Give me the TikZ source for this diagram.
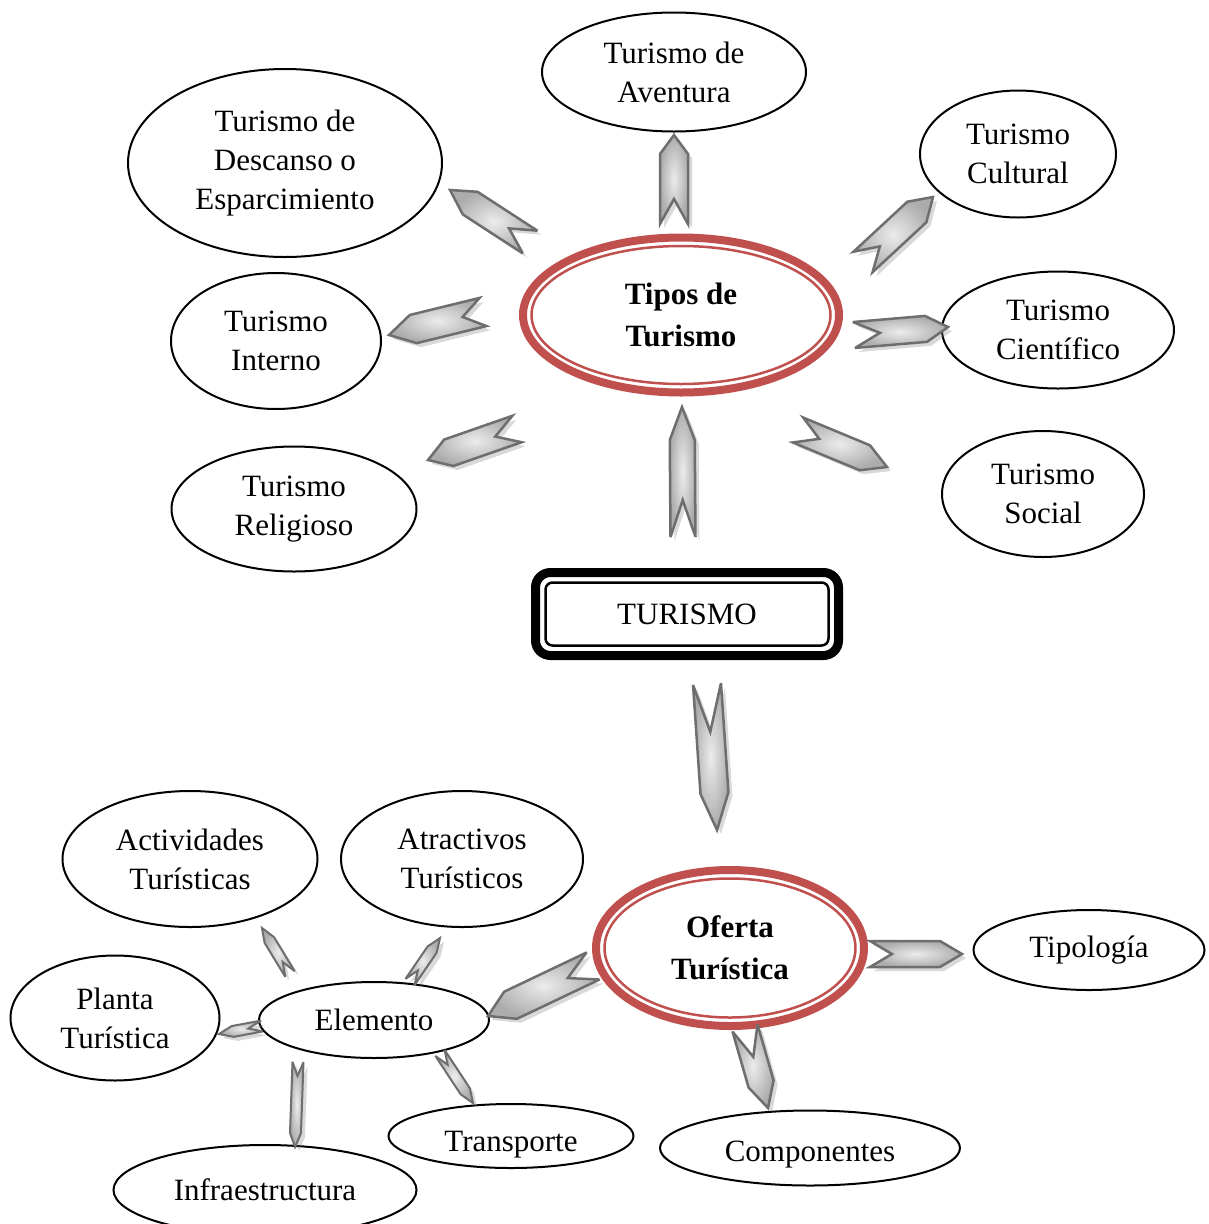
\documentclass[tikz,border=0pt]{standalone}
\usepackage{fontspec}
\setmainfont{Liberation Serif}
\usetikzlibrary{calc, shapes.geometric, shadows}
\definecolor{ofred}{RGB}{192,80,77}
\definecolor{chevline}{RGB}{110,110,110}
\newcommand\turfont{\fontsize{31}{39}\selectfont}
\newcommand\turbold{\fontsize{31}{42}\selectfont\bfseries}
\newcommand\chev[6]{%
  \path[#1] let \p1=($(#3)-(#2)$), \n1={atan2(\y1,\x1)}, \n2={veclen(\x1,\y1)} in
    ($(#2)+(\n1+90:#4/2)$) -- ($(#2)+(\n1:#5)$) -- ($(#2)+(\n1-90:#4/2)$)
    -- ($(#2)+(\n1:\n2-#6)+(\n1-90:#4/2)$) -- (#3)
    -- ($(#2)+(\n1:\n2-#6)+(\n1+90:#4/2)$) -- cycle;}

\begin{document}
\begin{tikzpicture}[
  x=1pt, y=1pt,
  oval/.style={draw, line width=2pt, ellipse, inner sep=0pt, align=center, font=\turfont},
  redoval/.style={draw=ofred, line width=8pt, ellipse, inner sep=0pt, align=center, font=\turbold},
  chev/.style={draw=chevline, line width=2.5pt, line join=miter, miter limit=4,
    inner color=gray!15, outer color=gray!65,
    drop shadow={shadow xshift=4pt, shadow yshift=-4pt, opacity=0.3, fill=gray}},
  smallchev/.style={chev, line width=2pt}
]
\useasboundingbox (0,0) rectangle (1208,-1224);

\node[redoval, minimum width=316pt, minimum height=155pt] (tipos) at (681,-315) {Tipos de\\Turismo};
\draw[ofred, line width=2.5pt] (tipos.center) ellipse [x radius=149.5pt, y radius=69pt];

\node[oval, minimum width=264pt, minimum height=119pt] (aventura) at (674,-72) {Turismo de\\Aventura};
\node[oval, minimum width=314pt, minimum height=188pt] (descanso) at (285,-163) {Turismo de\\Descanso o\\Esparcimiento};
\node[oval, minimum width=196pt, minimum height=127pt] (cultural) at (1018,-154) {Turismo\\Cultural};
\node[oval, minimum width=210pt, minimum height=136pt] (interno) at (276,-341) {Turismo\\Interno};
\node[oval, minimum width=232pt, minimum height=117pt] (cientifico) at (1058,-330) {Turismo\\Científico};
\node[oval, minimum width=245pt, minimum height=125pt] (religioso) at (294,-509) {Turismo\\Religioso};
\node[oval, minimum width=202pt, minimum height=126pt] (social) at (1043,-494) {Turismo\\Social};

\node[draw, line width=9pt, rounded corners=15pt, minimum width=303pt, minimum height=83pt,
  font=\turfont] (turismo) at (687,-614) {TURISMO};
\draw[line width=2.5pt, rounded corners=7pt] ($(turismo.south west)+(14.5,14.5)$) rectangle ($(turismo.north east)+(-14.5,-14.5)$);

\node[redoval, minimum width=268pt, minimum height=156pt] (oferta) at (730,-948) {Oferta\\Turística};
\draw[ofred, line width=2.5pt] (oferta.center) ellipse [x radius=125.5pt, y radius=69.5pt];

\node[oval, minimum width=255pt, minimum height=136pt] (actividades) at (190,-859) {Actividades\\Turísticas};
\node[oval, minimum width=242pt, minimum height=136pt] (atractivos) at (462,-859) {Atractivos\\Turísticos};
\node[oval, minimum width=231pt, minimum height=80pt] (tipologia) at (1089,-950) {Tipología};
\node[oval, minimum width=209pt, minimum height=125pt] (planta) at (115,-1018) {Planta\\Turística};
\node[oval, minimum width=230pt, minimum height=76pt] (elemento) at (374,-1020) {Elemento};
\node[oval, minimum width=245pt, minimum height=64pt, text height=37pt, text depth=7pt] (transporte) at (511,-1136) {Transporte};
\node[oval, minimum width=300pt, minimum height=75pt, text height=33pt, text depth=7pt] (componentes) at (810,-1148) {Componentes};
\node[oval, minimum width=303pt, minimum height=90pt] (infra) at (265,-1190) {Infraestructura};

\coordinate (t1) at (674,-224);  \coordinate (h1) at (674,-135);
\coordinate (t2) at (530,-242);  \coordinate (h2) at (450,-190);
\coordinate (t3) at (483,-312);  \coordinate (h3) at (389,-335);
\coordinate (t4) at (863,-262);  \coordinate (h4) at (933,-197);
\coordinate (t5) at (854,-335);  \coordinate (h5) at (948,-327);
\coordinate (t6) at (517,-429);  \coordinate (h6) at (428,-460);
\coordinate (t7) at (798,-430);  \coordinate (h7) at (887,-467);
\coordinate (t8) at (683,-537);  \coordinate (h8) at (682,-407);
\coordinate (t9) at (707,-684);  \coordinate (h9) at (717,-830);
\coordinate (t10) at (593,-966); \coordinate (h10) at (488,-1016);
\coordinate (t11) at (870,-954); \coordinate (h11) at (962,-954);
\coordinate (t12) at (745,-1028); \coordinate (h12) at (768,-1108);
\coordinate (t13) at (290,-974); \coordinate (h13) at (262,-928);
\coordinate (t14) at (410,-982); \coordinate (h14) at (440,-938);
\coordinate (t15) at (262,-1026); \coordinate (h15) at (219,-1034);
\coordinate (t16) at (298,-1062); \coordinate (h16) at (295,-1147);
\coordinate (t17) at (440,-1053); \coordinate (h17) at (473,-1103);

\chev{chev}{t1}{h1}{28}{25}{19}
\chev{chev}{t2}{h2}{27}{25}{24}
\chev{chev}{t3}{h3}{29}{21}{25}
\chev{chev}{t4}{h4}{28}{23}{22}
\chev{chev}{t5}{h5}{26}{26}{22}
\chev{chev}{t6}{h6}{28}{23}{22}
\chev{chev}{t7}{h7}{27}{23}{24}
\chev{chev}{t8}{h8}{25}{37}{33}
\chev{chev}{t9}{h9}{28}{48}{37}
\chev{chev}{t10}{h10}{30}{28}{25}
\chev{chev}{t11}{h11}{26}{22}{22}
\chev{chev}{t12}{h12}{26}{30}{25}
\chev{smallchev}{t13}{h13}{11}{14}{14}
\chev{smallchev}{t14}{h14}{11}{14}{14}
\chev{smallchev}{t15}{h15}{11}{14}{14}
\chev{smallchev}{t16}{h16}{11}{14}{14}
\chev{smallchev}{t17}{h17}{11}{14}{14}
\end{tikzpicture}
\end{document}
